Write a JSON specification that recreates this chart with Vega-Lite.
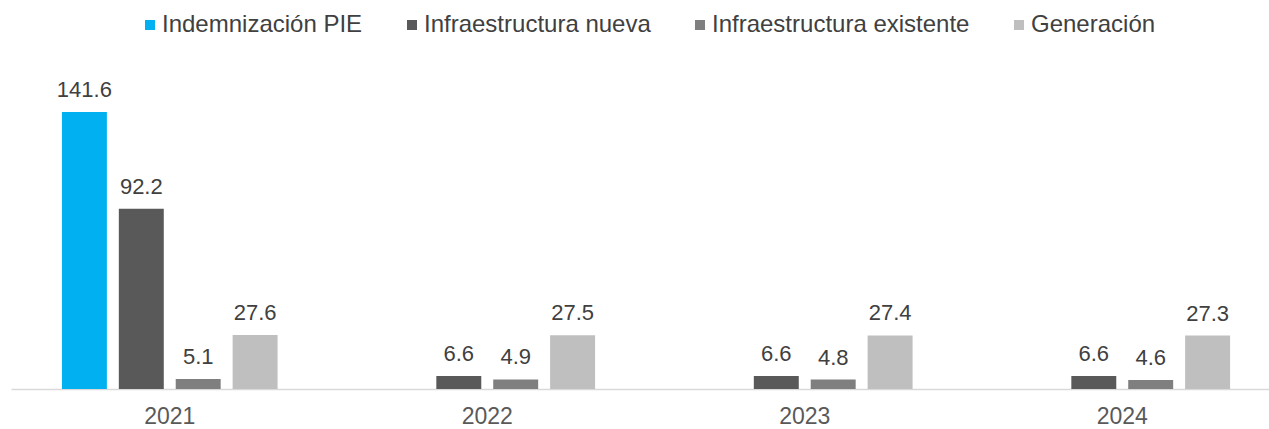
{
  "$schema": "https://vega.github.io/schema/vega-lite/v6.json",
  "width": 1270,
  "height": 313,
  "autosize": "none",
  "padding": {"left": 11, "top": 76, "right": 0, "bottom": 40},
  "background": "white",
  "config": {
    "view": {"stroke": null},
    "font": "Liberation Sans"
  },
  "data": {
    "values": [
      {"year": "2021", "serie": "Indemnización PIE", "value": 141.6},
      {"year": "2021", "serie": "Infraestructura nueva", "value": 92.2},
      {"year": "2021", "serie": "Infraestructura existente", "value": 5.1},
      {"year": "2021", "serie": "Generación", "value": 27.6},
      {"year": "2022", "serie": "Infraestructura nueva", "value": 6.6},
      {"year": "2022", "serie": "Infraestructura existente", "value": 4.9},
      {"year": "2022", "serie": "Generación", "value": 27.5},
      {"year": "2023", "serie": "Infraestructura nueva", "value": 6.6},
      {"year": "2023", "serie": "Infraestructura existente", "value": 4.8},
      {"year": "2023", "serie": "Generación", "value": 27.4},
      {"year": "2024", "serie": "Infraestructura nueva", "value": 6.6},
      {"year": "2024", "serie": "Infraestructura existente", "value": 4.6},
      {"year": "2024", "serie": "Generación", "value": 27.3}
    ]
  },
  "encoding": {
    "x": {
      "field": "year",
      "type": "nominal",
      "scale": {"paddingInner": 0, "paddingOuter": 0},
      "axis": {
        "title": null,
        "labelAngle": 0,
        "ticks": false,
        "domainColor": "#D9D9D9",
        "domainWidth": 1.5,
        "labelColor": "#595959",
        "labelFontSize": 23,
        "labelFont": "Liberation Sans",
        "labelPadding": 16,
        "grid": false
      }
    },
    "xOffset": {
      "field": "serie",
      "type": "nominal",
      "scale": {
        "domain": ["Indemnización PIE", "Infraestructura nueva", "Infraestructura existente", "Generación"],
        "paddingInner": 0.21,
        "paddingOuter": 0.895
      }
    },
    "y": {
      "field": "value",
      "type": "quantitative",
      "scale": {"domain": [0, 160]},
      "axis": null
    }
  },
  "layer": [
    {
      "mark": {"type": "bar"},
      "encoding": {
        "color": {
          "field": "serie",
          "type": "nominal",
          "scale": {
            "domain": ["Indemnización PIE", "Infraestructura nueva", "Infraestructura existente", "Generación"],
            "range": ["#00B0F0", "#595959", "#7F7F7F", "#BFBFBF"]
          },
          "legend": {
            "title": null,
            "orient": "none",
            "direction": "horizontal",
            "legendX": 127,
            "legendY": -63,
            "symbolType": "square",
            "symbolSize": 100,
            "symbolStrokeWidth": 0,
            "labelFontSize": 24,
            "labelFont": "Liberation Sans",
            "labelColor": "#404040",
            "labelOffset": 0,
            "columnPadding": 37,
            "padding": 0,
            "labelLimit": 400
          }
        }
      }
    },
    {
      "mark": {
        "type": "text",
        "baseline": "bottom",
        "dy": -10,
        "fontSize": 22,
        "font": "Liberation Sans",
        "color": "#404040"
      },
      "encoding": {
        "text": {"field": "value", "type": "quantitative", "format": ".1f"}
      }
    }
  ]
}
